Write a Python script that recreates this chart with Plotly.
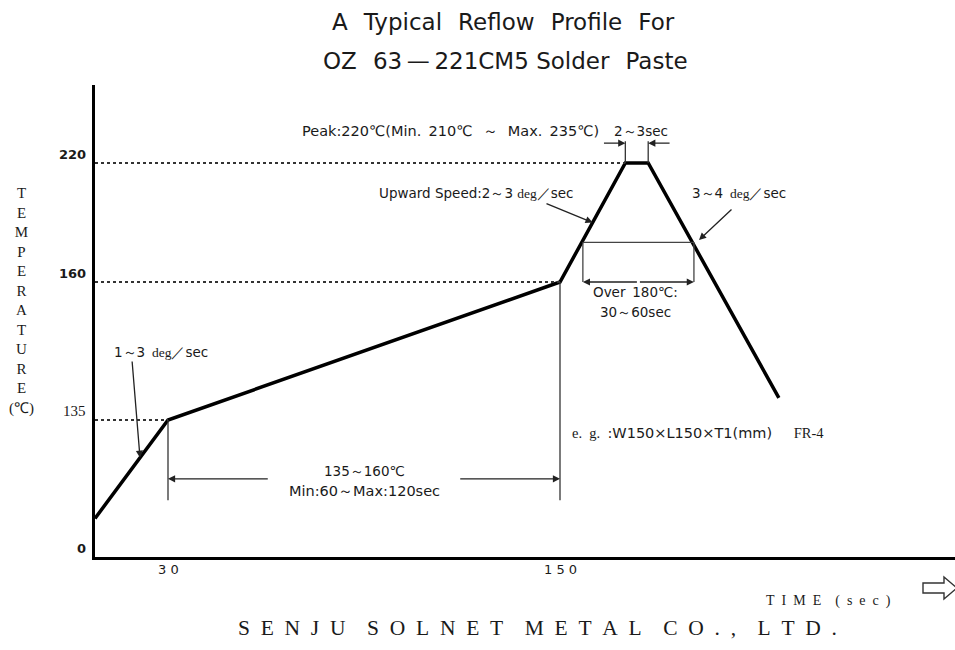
import numpy as np
import plotly.graph_objects as go

# ---------------- data ----------------
time_s = [0, 30, 150, 170, 177, 217]          # profile break points (sec)
temp_c = [38, 135, 160, 220, 220, 139]        # temperature at break points (degC)
ytick_vals = [220, 160, 135, 0]
ytick_text = ["220", "160", "135", "0"]
xtick_vals = [30, 150]
xtick_text = ["3 0", "1 5 0"]
peak_window = [170, 177]       # sec at 220 degC
over180_window = [157, 191]    # sec above 180 degC
soak_window = [30, 150]        # 135~160 degC soak

# ------------- schematic (non linear) scales of the original drawing -------------
T_KNOTS, T_POS, T_SLOPE = [0, 30, 150], [0, 73, 465], 392 / 120
C_KNOTS, C_POS, C_SLOPE = [0, 135, 160, 220], [0, 137, 275, 394], 119 / 60


def X(t):
    t = np.asarray(t, float)
    return np.where(t <= 150, np.interp(t, T_KNOTS, T_POS), 465 + (t - 150) * T_SLOPE)


def Y(c):
    c = np.asarray(c, float)
    return np.where(c <= 220, np.interp(c, C_KNOTS, C_POS), 394 + (c - 220) * C_SLOPE)


def f(v):
    return float(v)


W, H = 955, 650
L, T, B = 95, 85, 93


def P(px, py):
    """pixel position -> paper coords"""
    return (px - L) / (W - L), (H - B - py) / (H - T - B)


SANS = "DejaVu Sans"
SERIF = "Liberation Serif"
INK = "#1a1a1a"
EN = "\u2002"
TS = "\u2004"
THIN = "\u2009"
FS = 13.5

fig = go.Figure()
fig.add_trace(go.Scatter(x=X(time_s), y=Y(temp_c), mode="lines",
                         line=dict(color="black", width=3.5), hoverinfo="skip",
                         showlegend=False))

shapes = []
# dotted reference lines
for val, tend in [(220, peak_window[0]), (160, soak_window[1]), (135, soak_window[0])]:
    shapes.append(dict(type="line", xref="x", yref="y", x0=0, x1=f(X(tend)),
                       y0=f(Y(val)), y1=f(Y(val)),
                       line=dict(color="#333", width=2, dash="dot")))
# soak window verticals
for t in soak_window:
    tv = np.interp(t, time_s, temp_c)
    shapes.append(dict(type="line", xref="x", yref="y", x0=f(X(t)), x1=f(X(t)),
                       y0=f(Y(tv)), y1=f(Y(56)), line=dict(color="#333", width=1.3)))
# peak verticals
for t in peak_window:
    shapes.append(dict(type="line", xref="x", yref="y", x0=f(X(t)), x1=f(X(t)),
                       y0=f(Y(220)), y1=f(Y(231)), line=dict(color="#333", width=1.3)))
# over 180 box
t0, t1 = over180_window
shapes.append(dict(type="line", xref="x", yref="y", x0=f(X(t0)), x1=f(X(t1)),
                   y0=f(Y(180)), y1=f(Y(180)), line=dict(color="#444", width=1.3)))
for t in over180_window:
    shapes.append(dict(type="line", xref="x", yref="y", x0=f(X(t)), x1=f(X(t)),
                       y0=f(Y(180)), y1=f(Y(160)), line=dict(color="#444", width=1.3)))

# outlined "time" arrow at the bottom right
pts = [(923, 583), (944, 583), (944, 577), (957, 588), (944, 599), (944, 593), (923, 593)]
path = "M " + " L ".join("%.5f,%.5f" % P(px, py) for px, py in pts) + " Z"
shapes.append(dict(type="path", xref="paper", yref="paper", path=path,
                   line=dict(color="#333", width=1.4), fillcolor="white"))

ann = []


def text(px, py, s, size=FS, family=SANS, xanchor="center", color=INK):
    x, y = P(px, py)
    ann.append(dict(xref="paper", yref="paper", x=x, y=y, text=s, showarrow=False,
                    xanchor=xanchor, yanchor="middle",
                    font=dict(family=family, size=size, color=color)))


def arrow(xh, yh, xt, yt, head=2, width=1.3, size=1.1):
    ann.append(dict(xref="x", yref="y", axref="x", ayref="y", x=f(xh), y=f(yh),
                    ax=f(xt), ay=f(yt), text="", showarrow=True, arrowhead=head,
                    arrowsize=size, arrowwidth=width, arrowcolor="#222"))


def serif(s):
    return '<span style="font-family:Liberation Serif">%s</span>' % s


# titles
text(503, 22, (EN + THIN).join(["A", "Typical", "Reflow", "Profile", "For"]), size=23)
text(505, 61, "OZ" + EN + THIN + "63" + THIN + "—" + THIN + "221CM5" + " Solder" + EN + THIN + "Paste",
     size=23)

# y axis title (stacked letters)
text(21, 301, "<br>".join(list("TEMPERATURE")) + "<br>(℃)", size=15, family=SERIF)

# y tick labels
for v, s in zip(ytick_vals, ytick_text):
    py = H - B - f(Y(v)) - 9
    if s == "135":
        text(88, py, s, size=15, family=SERIF, xanchor="right")
    else:
        text(88, py, "<b>%s</b>" % s, size=13, family=SANS, xanchor="right")

# x tick labels
for v, s in zip(xtick_vals, xtick_text):
    text(L + f(X(v)), 569, s, size=13, family=SANS)

# x axis title
text(828, 601, EN.join("TIME") + EN * 2 + "(" + EN + EN.join("sec") + EN + ")",
     size=14, family=SERIF)

# company
words = ["SENJU", "SOLNET", "METAL", "CO.,", "LTD."]
text(537, 628, (EN * 2).join(EN.join(list(w)) for w in words), size=21.5, family=SERIF)

# peak annotation
text(601, 131, "Peak:220℃(Min." + EN + "210℃" + EN + THIN + "～" + EN + THIN + "Max." + EN + "235℃)",
     size=14.5, xanchor="right")
text(641, 131, "2～3sec")
arrow(X(peak_window[0]), Y(230), X(163), Y(230), head=2)
arrow(X(peak_window[1]), Y(230), X(184), Y(230), head=2)

# upward speed
text(476, 193, "Upward Speed:2～3 " + serif("deg") + "／sec")
t_up = 160
arrow(X(t_up), Y(np.interp(t_up, time_s, temp_c)), 450, 354, head=2)

# cool down
text(739, 193, "3～4" + EN + serif("deg") + "／sec")
arrow(604, 317, 638, 349, head=2)

# over 180
arrow(X(t0), Y(160), X((t0 + t1) / 2), Y(160), head=2)
arrow(X(t1), Y(160), X((t0 + t1) / 2), Y(160), head=2)
text(635, 292, "Over" + EN + "180℃:")
text(635, 312, "30～60sec")

# preheat slope
text(161, 352, "1～3" + EN + serif("deg") + "／sec")
t_pre = 18.5
arrow(X(t_pre), Y(np.interp(t_pre, time_s, temp_c)), 37, 197, head=2)

# soak arrows
arrow(X(soak_window[0]), Y(77), X(61), Y(77), head=2)
arrow(X(soak_window[1]), Y(77), X(119), Y(77), head=2)
text(L + f(X(90)), 471, "135～160℃")
text(L + f(X(90)), 491, "Min:60～Max:120sec", size=14.5)

# example board
text(698, 433, serif("e." + EN + "g.") + EN + ":W150×L150×T1(mm)" + EN * 3 + serif("FR-4"),
     size=14.5)

fig.update_layout(
    width=W, height=H, margin=dict(l=L, r=0, t=T, b=B),
    paper_bgcolor="white", plot_bgcolor="white",
    shapes=shapes, annotations=ann, showlegend=False,
    xaxis=dict(range=[0, W - L], showgrid=False, zeroline=False, showticklabels=False,
               ticks="", showline=True, linecolor="black", linewidth=3, fixedrange=True),
    yaxis=dict(range=[0, H - T - B], showgrid=False, zeroline=False, showticklabels=False,
               ticks="", showline=True, linecolor="black", linewidth=3, fixedrange=True),
)
fig.write_html("out.html", config={"displayModeBar": False},
               post_script="document.body.style.margin='0px';")
